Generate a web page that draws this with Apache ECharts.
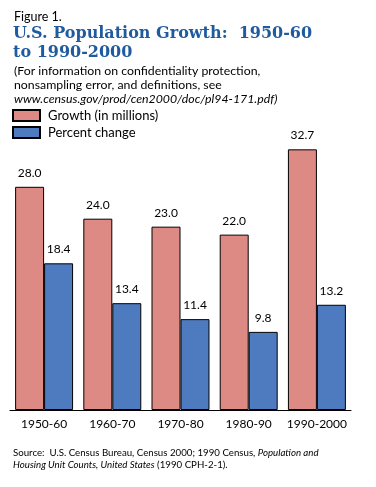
<!DOCTYPE html>
<html>
<head>
<meta charset="utf-8">
<script src="https://cdn.jsdelivr.net/npm/echarts@6/dist/echarts.min.js"></script>
<style>
  html, body { margin: 0; padding: 0; background: #fff; }
  #chart { width: 376px; height: 487px; }
</style>
</head>
<body>
<div id="chart"></div>
<script>
// decades shown on the x axis
const decades = ['1950-60', '1960-70', '1970-80', '1980-90', '1990-2000'];
// growth in millions
const growth = [28.0, 24.0, 23.0, 22.0, 32.7];
// percent change
const percentChange = [18.4, 13.4, 11.4, 9.8, 13.2];

const RED = '#de8a84';
const BLUE = '#4e7bbf';
const sans = 'Lato, "Open Sans", sans-serif';

const chart = echarts.init(document.getElementById('chart'));

chart.setOption({
    animation: false,
    backgroundColor: '#fff',
    title: [
        {
            text: 'Figure 1.',
            left: 9, top: 5,
            textStyle: { fontFamily: sans, fontSize: 12.5, fontWeight: 'normal', color: '#000' }
        },
        {
            text: 'U.S. Population Growth:  1950-60\nto 1990-2000',
            left: 8, top: 19,
            textStyle: { fontFamily: '"DejaVu Serif", serif', fontSize: 16, fontWeight: 'bold', color: '#1f5b9e', lineHeight: 19 }
        },
        {
            text: '(For information on confidentiality protection,\nnonsampling error, and definitions, see\n{i|www.census.gov/prod/cen2000/doc/pl94-171.pdf)}',
            left: 9, top: 59,
            textStyle: {
                fontFamily: sans, fontSize: 12.3, fontWeight: 'normal', color: '#000', lineHeight: 14,
                rich: { i: { fontFamily: sans, fontSize: 12.3, fontStyle: 'italic', color: '#000', lineHeight: 14 } }
            }
        },
        {
            text: 'Source:  U.S. Census Bureau, Census 2000; 1990 Census, {i|Population and}\n{i|Housing Unit Counts, United States} (1990 CPH-2-1).',
            left: 8, top: 442,
            textStyle: {
                fontFamily: sans, fontSize: 9.7, fontWeight: 'normal', color: '#000', lineHeight: 12,
                rich: { i: { fontFamily: sans, fontSize: 9.7, fontStyle: 'italic', color: '#000', lineHeight: 12 } }
            }
        }
    ],
    legend: {
        orient: 'vertical',
        left: 12, top: 109,
        padding: [0, 0, 0, 0],
        itemWidth: 27, itemHeight: 11, itemGap: 4,
        icon: 'rect',
        textStyle: { fontFamily: sans, fontSize: 13, lineHeight: 11, color: '#000', padding: [0, 0, 0, 3] },
        data: ['Growth (in millions)', 'Percent change']
    },
    grid: { left: 10, top: 131, width: 341, height: 279 },
    xAxis: {
        type: 'category',
        data: decades,
        axisLine: { lineStyle: { color: '#000', width: 1 } },
        axisTick: { show: false },
        axisLabel: { interval: 0, fontFamily: sans, fontSize: 12, color: '#000', margin: 8 }
    },
    yAxis: {
        type: 'value', min: 0, max: 35,
        show: false,
        splitLine: { show: false }
    },
    series: [
        {
            name: 'Growth (in millions)',
            type: 'bar',
            data: growth,
            barGap: '0%',
            barCategoryGap: '15%',
            itemStyle: { color: RED, borderColor: '#000', borderWidth: 1 },
            label: {
                show: true, position: 'top', distance: 8,
                fontFamily: sans, fontSize: 12, color: '#000',
                formatter: p => p.value.toFixed(1)
            }
        },
        {
            name: 'Percent change',
            type: 'bar',
            data: percentChange,
            itemStyle: { color: BLUE, borderColor: '#000', borderWidth: 1 },
            label: {
                show: true, position: 'top', distance: 8,
                fontFamily: sans, fontSize: 12, color: '#000',
                formatter: p => p.value.toFixed(1)
            }
        }
    ]
});
</script>
</body>
</html>
